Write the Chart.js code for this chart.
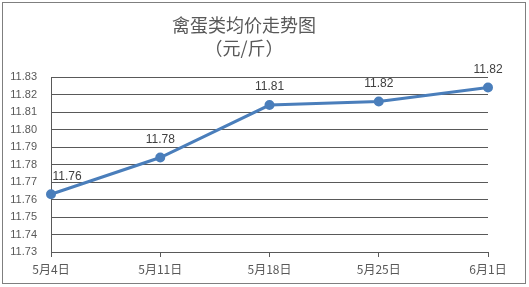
<!DOCTYPE html>
<html>
<head>
<meta charset="utf-8">
<script src="https://cdn.jsdelivr.net/npm/chart.js@4"></script>
<style>
  body { margin: 0; background: #fff; }
  #wrap { position: relative; width: 529px; height: 287px; }
</style>
</head>
<body>
<div id="wrap"><canvas id="myChart" width="529" height="287"></canvas></div>
<script>
// 数据
const dates = ['5月4日', '5月11日', '5月18日', '5月25日', '6月1日'];
const prices = [11.763, 11.784, 11.814, 11.816, 11.824];
const priceLabels = ['11.76', '11.78', '11.81', '11.82', '11.82'];
const titleLines = ['禽蛋类均价走势图', '（元/斤）'];

const fontName = '"Noto Sans CJK SC", "Liberation Sans", sans-serif';
const grey = '#595959';

// 外框
const borderPlugin = {
    id: 'border',
    beforeDraw: (chart) => {
        const ctx = chart.ctx;
        ctx.save();
        ctx.fillStyle = '#fff';
        ctx.fillRect(0, 0, chart.width, chart.height);
        ctx.strokeStyle = '#7f7f7f';
        ctx.lineWidth = 1;
        ctx.strokeRect(2.5, 2.5, 523, 281);
        ctx.restore();
    }
};

// 数据标签
const labelPlugin = {
    id: 'pointLabels',
    afterDatasetsDraw: (chart) => {
        const ctx = chart.ctx;
        const meta = chart.getDatasetMeta(0);
        ctx.save();
        ctx.font = '12px "Liberation Sans", sans-serif';
        ctx.fillStyle = '#404040';
        ctx.textAlign = 'center';
        ctx.textBaseline = 'middle';
        meta.data.forEach((pt, i) => {
            let x = pt.x;
            if (i === 0) x += 16;
            ctx.fillText(priceLabels[i], x, pt.y - 18);
        });
        ctx.restore();
    }
};

const ctx = document.getElementById('myChart').getContext('2d');
const chart = new Chart(ctx, {
    type: 'line',
    data: {
        labels: dates,
        datasets: [{
            data: prices,
            borderColor: '#4a7ebb',
            backgroundColor: '#4a7ebb',
            borderWidth: 3,
            pointRadius: 3.5,
            pointHoverRadius: 3.5,
            tension: 0
        }]
    },
    options: {
        responsive: false,
        animation: false,
        layout: { padding: { left: 0, right: 41, top: 0, bottom: 10 } },
        plugins: {
            legend: { display: false },
            tooltip: { enabled: false },
            title: {
                display: true,
                text: titleLines,
                color: grey,
                font: { family: fontName, size: 18, weight: 'normal', lineHeight: 1.28 },
                padding: { top: 14, bottom: 17 }
            }
        },
        scales: {
            x: {
                offset: false,
                grid: { display: true, drawOnChartArea: false, color: grey, tickLength: 5 },
                border: { color: grey },
                ticks: { color: grey, padding: 5, font: { family: fontName, size: 12 }, maxRotation: 0 },
                afterFit: (scale) => { scale.height = 25; }
            },
            y: {
                min: 11.73,
                max: 11.83,
                ticks: {
                    stepSize: 0.01,
                    color: grey,
                    padding: 14,
                    font: { family: '"Liberation Sans", sans-serif', size: 11 },
                    callback: (v) => v.toFixed(2)
                },
                grid: { color: grey, drawTicks: false },
                border: { color: grey },
                afterFit: (scale) => { scale.width = 51; }
            }
        }
    },
    plugins: [borderPlugin, labelPlugin]
});
</script>
</body>
</html>
